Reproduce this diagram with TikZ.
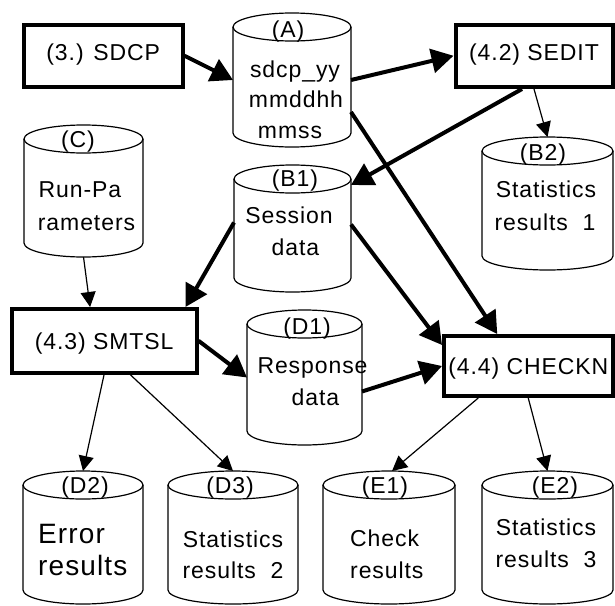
\documentclass[tikz,border=0pt]{standalone}
\usepackage{fontspec}
\setmainfont{Liberation Sans}[LetterSpace=4]
\usetikzlibrary{arrows.meta,calc,fit}

% data store drawn as an upright cylinder: name, left, top, right, bottom
\newcommand\drum[5]{%
  \coordinate (#1-nw) at (#2,#3);
  \coordinate (#1-se) at (#4,#5);
  \node[fit=(#1-nw)(#1-se), inner sep=0pt, outer sep=0pt] (#1) {};
  \draw[drumline] ($(#1.north)+(0,14)$) ellipse [x radius={(#4-#2)/2}, y radius=14];
  \draw[drumline] ($(#1.north west)+(0,14)$) -- ($(#1.south west)+(0,-14)$)
    arc[start angle=180, end angle=0, x radius={(#4-#2)/2}, y radius=14]
    -- ($(#1.north east)+(0,14)$);
}

\tikzset{
  proc/.style={draw, line width=4pt, inner sep=0pt,
    font=\fontsize{23}{27}\selectfont},
  drumline/.style={line width=1.2pt},
  tag/.style={anchor=base, inner sep=0pt, font=\fontsize{23}{27}\selectfont},
  bigtag/.style={anchor=base west, inner sep=0pt, font=\fontsize{28}{32}\selectfont},
  thickflow/.style={line width=4pt, -{Triangle[length=22pt,width=24pt]}},
  thinflow/.style={line width=1.2pt, -{Triangle[length=15pt,width=15pt]}},
}

\begin{document}
\begin{tikzpicture}[x=1pt, y=-1pt]
\useasboundingbox (0,0) rectangle (615,605);
\fill[white] (0,0) rectangle (615,605);

% processes
\node[proc, minimum width=158.5pt, minimum height=62.5pt, text height=16.5pt, text depth=8pt]
  (sdcp) at (103.25,55.75) {(3.) SDCP\hspace{6pt}};
\node[proc, minimum width=157pt, minimum height=62.5pt, text height=16.5pt, text depth=8pt]
  (sedit) at (534,55.75) {(4.2) SEDIT\hspace{10pt}};
\node[proc, minimum width=184.8pt, minimum height=63.5pt, text height=16.5pt, text depth=0pt]
  (smtsl) at (104.1,340.75) {(4.3) SMTSL\hspace{8pt}};
\node[proc, minimum width=168.5pt, minimum height=60pt, text height=16.5pt, text depth=0pt]
  (checkn) at (528.25,366) {(4.4) CHECKN};

% data stores
\drum{A}{233}{13}{351}{147}
\drum{B1}{234}{165}{351}{292}
\drum{C}{24}{125}{143}{257}
\drum{B2}{482}{137}{613}{270}
\drum{D1}{247}{310}{362}{445}
\drum{D2}{23}{471}{143}{604}
\drum{D3}{168}{471}{298}{604}
\drum{E1}{323}{471}{455}{604}
\drum{E2}{482}{471}{613}{604}

% store labels
\node[tag] (tA)  at (288,37)  {(A)};
\node[tag] (tB1) at (295,186) {(B1)};
\node[tag] (tC)  at (78,147)  {(C)};
\node[tag] (tB2) at (543,160) {(B2)};
\node[tag] (tD1) at (307,334) {(D1)};
\node[tag] (tD2) at (85,493)  {(D2)};
\node[tag] (tD3) at (230,493) {(D3)};
\node[tag] (tE1) at (385,493) {(E1)};
\node[tag] (tE2) at (555,493) {(E2)};

% store contents
\node[tag] (a1) at (295,77)  {sdcp\_yy};
\node[tag] (a2) at (296,107) {mmddhh};
\node[tag] (a3) at (290,138) {mmss};
\node[tag] (b11) at (289,223) {Session};
\node[tag] (b12) at (295.5,255) {data};
\node[tag] (c1) at (80,197)  {Run-Pa};
\node[tag] (c2) at (86.5,230) {rameters};
\node[tag] (b21) at (546,197) {Statistics};
\node[tag] (b22) at (545,230) {results\ \ 1};
\node[tag] (d11) at (312.5,373) {Response};
\node[tag] (d12) at (315.5,405) {data};
\node[bigtag] (d21) at (38,543) {Error};
\node[bigtag] (d22) at (38,575) {results};
\node[tag] (d31) at (233,547) {Statistics};
\node[tag] (d32) at (233,578) {results\ \ 2};
\node[tag, anchor=base west] (e11) at (350,546) {Check};
\node[tag, anchor=base west] (e12) at (350,578) {results};
\node[tag] (e21) at (546,535) {Statistics};
\node[tag] (e22) at (546,567) {results\ \ 3};

% main data flow
\draw[thickflow] (sdcp.east) -- (A.west);
\draw[thickflow] (A.east) -- (sedit.west);
\draw[thickflow] ($(sedit.south)+(-12,0)$) -- ($(B1.north east)+(0,20)$);
\draw[thickflow] ($(A.east)+(0,32)$) -- ($(checkn.north)+(-31,0)$);
\draw[thickflow] ($(B1.west)+(0,-6)$) -- ($(smtsl.north east)+(-13,0)$);
\draw[thickflow] ($(B1.east)+(0,-4)$) -- ($(checkn.north west)+(0,11)$);
\draw[thickflow] (smtsl.east) -- (D1.west);
\draw[thickflow] ($(D1.east)+(0,14)$) -- (checkn.west);

% secondary flow
\draw[thinflow] (C.south) -- ($(smtsl.north)+(-14,0)$);
\draw[thinflow] (sedit.south) -- (B2.north);
\draw[thinflow] (smtsl.south) -- (D2.north);
\draw[thinflow] ($(smtsl.south)+(26,0)$) -- (D3.north);
\draw[thinflow] ($(checkn.south)+(-50,0)$) -- ($(E1.north)+(3,0)$);
\draw[thinflow] (checkn.south) -- (E2.north);
\end{tikzpicture}
\end{document}
